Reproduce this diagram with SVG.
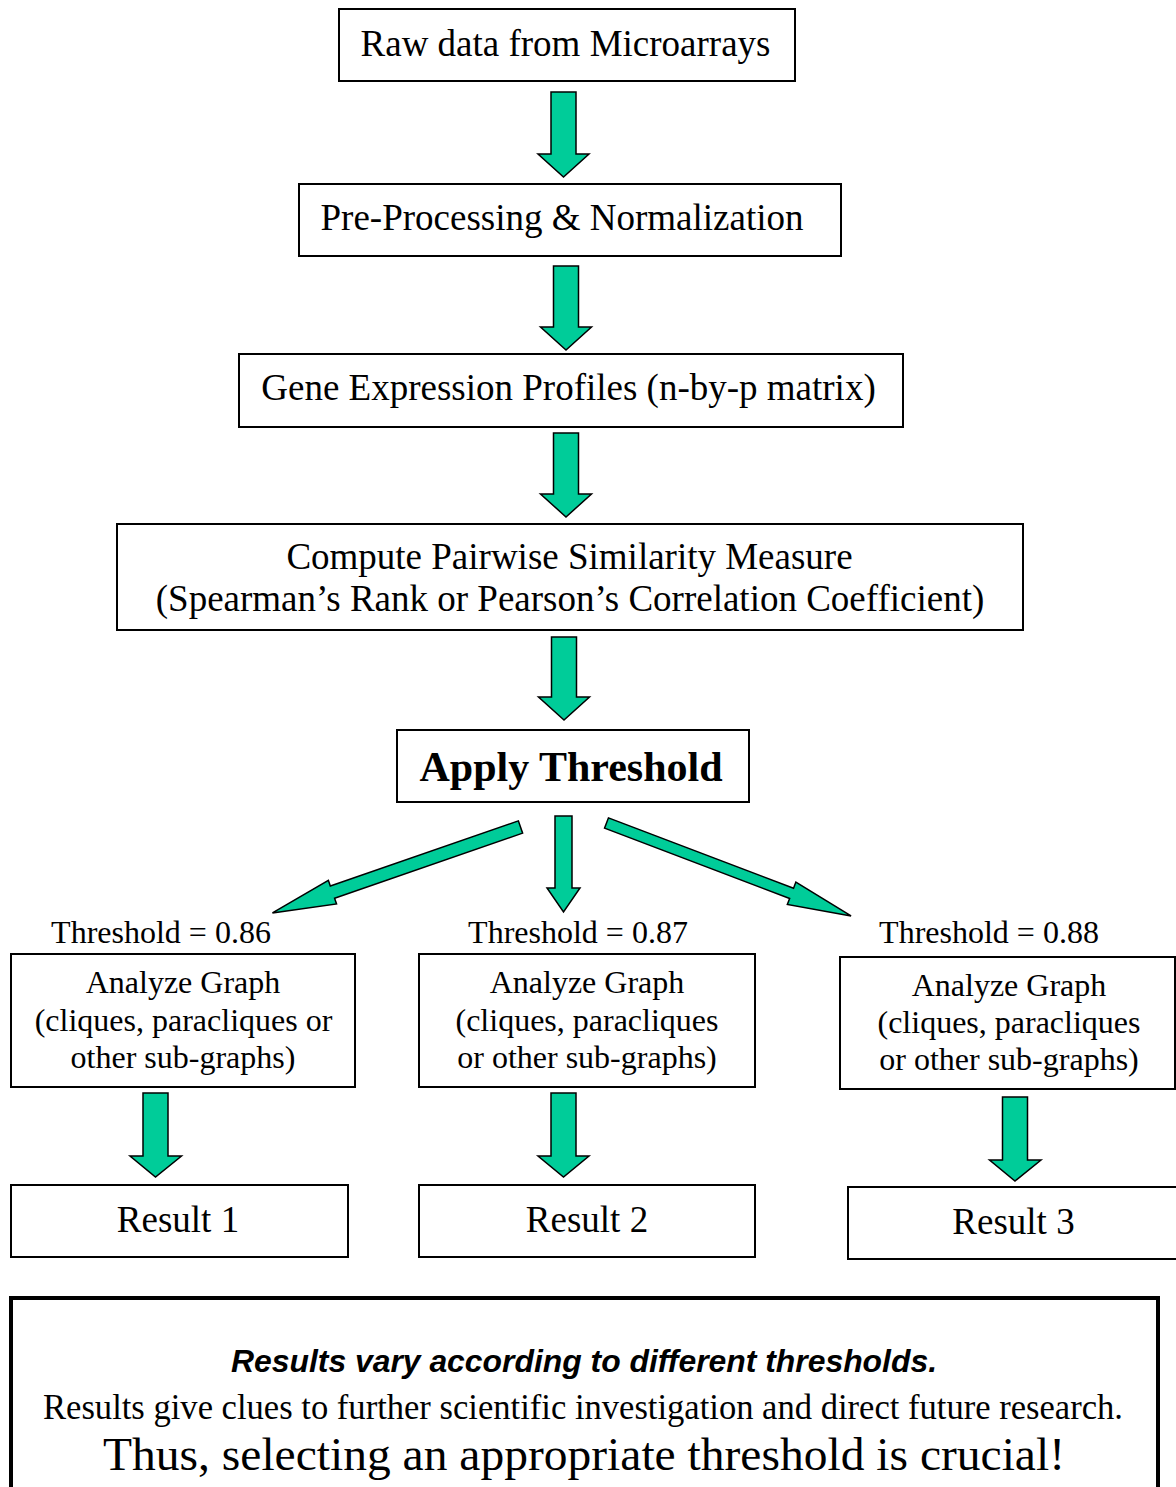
<svg xmlns="http://www.w3.org/2000/svg" width="1176" height="1487" viewBox="0 0 1176 1487">
<style>
.box{fill:#fff;stroke:#000;stroke-width:2}
.t{font-family:"Liberation Serif","Times New Roman",serif;fill:#000;text-anchor:middle}
.t37{font-size:37px}
.t32{font-size:32px}
.arr{fill:#00CC99;stroke:#000;stroke-width:1.5;stroke-linejoin:miter}
</style>
<rect x="0" y="0" width="1176" height="1487" fill="#fff"/>
<g id="connectors">
<path class="arr" d="M551,92 H576 V154 H589 L563.5,177 L538,154 H551 Z"/>
<path class="arr" d="M553.5,266 H578.5 V327 H591.5 L566,350 L540.5,327 H553.5 Z"/>
<path class="arr" d="M553.5,433 H578.5 V494 H591.5 L566,517 L540.5,494 H553.5 Z"/>
<path class="arr" d="M551.5,637 H576.5 V697 H589.5 L564,720 L538.5,697 H551.5 Z"/>
<path class="arr" d="M555,816 H572 V888 H580 L563.5,912 L547,888 H555 Z"/>
<g transform="translate(520.5,827) rotate(160.9)"><path class="arr" d="M0,-6.5 H199 V-12.5 L262.5,0 L199,12.5 V6.5 H0 Z"/></g>
<g transform="translate(606.5,823) rotate(20.8)"><path class="arr" d="M0,-5.5 H198 V-12 L261.6,0 L198,12 V5.5 H0 Z"/></g>
<path class="arr" d="M143,1093 H168 V1156 H181.5 L155.5,1177 L130,1156 H143 Z"/>
<path class="arr" d="M551,1093 H576 V1156 H589 L563.5,1177 L538,1156 H551 Z"/>
<path class="arr" d="M1002.5,1097 H1027.5 V1160 H1041 L1015,1181 L989.5,1160 H1002.5 Z"/>
</g>
<g id="n-raw"><rect class="box" x="339" y="9" width="456" height="72"/><text class="t t37" x="565.5" y="56">Raw data from Microarrays</text></g>
<g id="n-pre"><rect class="box" x="299" y="184" width="542" height="72"/><text class="t t37" x="562" y="230">Pre-Processing &amp; Normalization</text></g>
<g id="n-gene"><rect class="box" x="239" y="354" width="664" height="73"/><text class="t t37" x="568.5" y="400">Gene Expression Profiles (n-by-p matrix)</text></g>
<g id="n-compute"><rect class="box" x="117" y="524" width="906" height="106"/><text class="t t37" x="569.5" y="569">Compute Pairwise Similarity Measure</text><text class="t t37" x="570" y="611">(Spearman’s Rank or Pearson’s Correlation Coefficient)</text></g>
<g id="n-apply"><rect class="box" x="397" y="730" width="352" height="72"/><text class="t" x="571" y="781" font-size="42" font-weight="bold">Apply Threshold</text></g>
<g id="labels">
<text class="t t32" x="161" y="943">Threshold = 0.86</text>
<text class="t t32" x="578" y="943">Threshold = 0.87</text>
<text class="t t32" x="989" y="943">Threshold = 0.88</text>
</g>
<g id="n-analyze1"><rect class="box" x="11" y="954" width="344" height="133"/>
<text class="t t32" x="183" y="993">Analyze Graph</text><text class="t t32" x="183.5" y="1031">(cliques, paracliques or</text><text class="t t32" x="183" y="1068">other sub-graphs)</text></g>
<g id="n-analyze2"><rect class="box" x="419" y="954" width="336" height="133"/>
<text class="t t32" x="587" y="993">Analyze Graph</text><text class="t t32" x="587" y="1031">(cliques, paracliques</text><text class="t t32" x="587" y="1068">or other sub-graphs)</text></g>
<g id="n-analyze3"><rect class="box" x="840" y="957" width="335" height="132"/>
<text class="t t32" x="1009" y="996">Analyze Graph</text><text class="t t32" x="1009" y="1033">(cliques, paracliques</text><text class="t t32" x="1009" y="1070">or other sub-graphs)</text></g>
<g id="n-result1"><rect class="box" x="11" y="1185" width="337" height="72"/><text class="t t37" x="178" y="1232">Result 1</text></g>
<g id="n-result2"><rect class="box" x="419" y="1185" width="336" height="72"/><text class="t t37" x="587" y="1232">Result 2</text></g>
<g id="n-result3"><rect class="box" x="848" y="1187" width="329" height="72"/><text class="t t37" x="1013.5" y="1234">Result 3</text></g>
<g id="n-note"><rect x="11" y="1298" width="1147" height="260" fill="#fff" stroke="#000" stroke-width="4"/>
<text x="584" y="1372" text-anchor="middle" font-family="'Liberation Sans',Arial,sans-serif" font-size="31" font-weight="bold" font-style="italic" textLength="706" lengthAdjust="spacingAndGlyphs">Results vary according to different thresholds.</text>
<text class="t" x="583" y="1419" font-size="35" textLength="1080" lengthAdjust="spacingAndGlyphs">Results give clues to further scientific investigation and direct future research.</text>
<text class="t" x="584" y="1470" font-size="47" textLength="962" lengthAdjust="spacingAndGlyphs">Thus, selecting an appropriate threshold is crucial!</text>
</g>
</svg>
